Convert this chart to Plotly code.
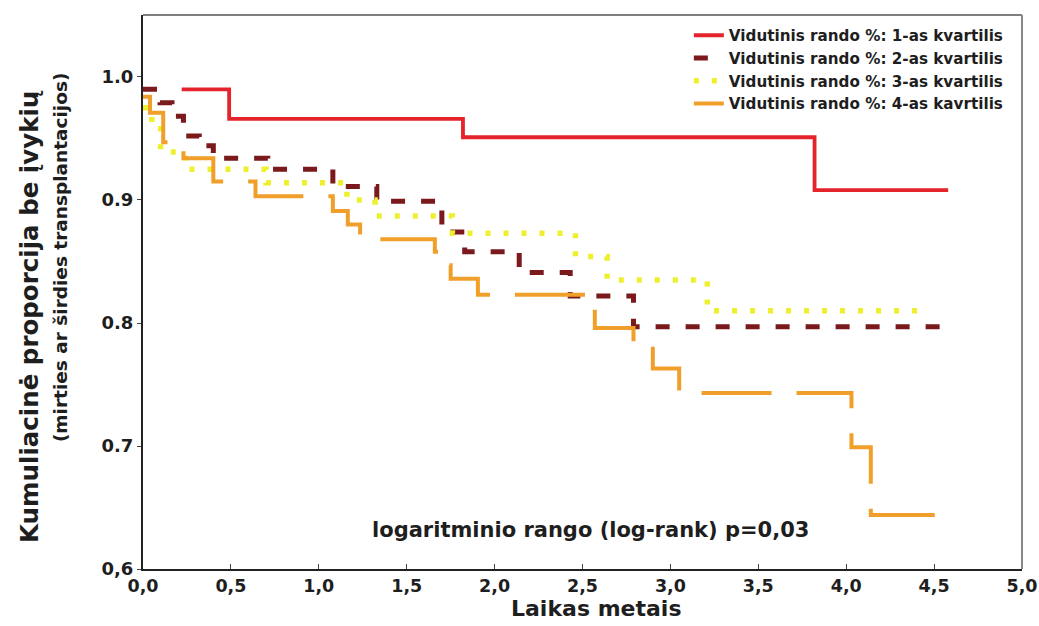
import plotly.graph_objects as go

# ---- data ----
q1_t = [0.22, 0.49, 1.82, 3.82, 4.58]
q1_s = [0.990, 0.966, 0.951, 0.908, 0.908]

q2_t = [0.00, 0.097, 0.165, 0.23, 0.32, 0.40, 0.71, 1.08, 1.33, 1.70, 1.83, 2.14, 2.43, 2.79, 4.56]
q2_s = [0.990, 0.979, 0.968, 0.952, 0.944, 0.934, 0.925, 0.911, 0.899, 0.874, 0.858, 0.841, 0.822, 0.797, 0.797]

q3_t = [0.00, 0.05, 0.10, 0.24, 0.70, 1.16, 1.32, 1.76, 2.46, 2.64, 3.21, 4.41]
q3_s = [0.975, 0.958, 0.939, 0.925, 0.914, 0.900, 0.887, 0.873, 0.854, 0.835, 0.810, 0.810]

q4_t = [0.00, 0.04, 0.115, 0.23, 0.40, 0.64, 1.08, 1.165, 1.235, 1.66, 1.71, 1.75, 1.905,
        2.57, 2.79, 2.90, 3.05, 4.03, 4.14, 4.58]
q4_s = [0.984, 0.971, 0.947, 0.934, 0.915, 0.903, 0.891, 0.880, 0.868, 0.858, 0.847, 0.836, 0.823,
        0.796, 0.783, 0.763, 0.743, 0.699, 0.644, 0.644]

series_names = [
    "Vidutinis rando %: 1-as kvartilis",
    "Vidutinis rando %: 2-as kvartilis",
    "Vidutinis rando %: 3-as kvartilis",
    "Vidutinis rando %: 4-as kavrtilis",
]

x_tick_vals = [0.0, 0.5, 1.0, 1.5, 2.0, 2.5, 3.0, 3.5, 4.0, 4.5, 5.0]
x_tick_text = ["0,0", "0,5", "1,0", "1,5", "2,0", "2,5", "3,0", "3,5", "4,0", "4,5", "5,0"]
y_tick_vals = [0.6, 0.7, 0.8, 0.9, 1.0]
y_tick_text = ["0,6", "0.7", "0.8", "0.9", "1.0"]

FONT = "DejaVu Sans"
TXT = "#1e1e1e"

fig = go.Figure()
styles = [
    dict(color="#e4232b", width=3.8, dash="solid"),
    dict(color="#7a1a1c", width=5, dash="14px,16px"),
    dict(color="#eef02e", width=5.5, dash="5px,13px"),
    dict(color="#f0a02a", width=4, dash="70px,25px"),
]
for t, s, name, st in zip([q1_t, q2_t, q3_t, q4_t], [q1_s, q2_s, q3_s, q4_s], series_names, styles):
    fig.add_trace(go.Scatter(x=t, y=s, mode="lines", name=name, line_shape="hv", line=st))

fig.update_layout(
    width=1039, height=626,
    margin=dict(l=143, r=17, t=15, b=57, autoexpand=False),
    paper_bgcolor="white", plot_bgcolor="white",
    font=dict(family=FONT, color=TXT),
    showlegend=True,
    legend=dict(x=0.621, y=0.993, xanchor="left", yanchor="top",
                bgcolor="rgba(0,0,0,0)", borderwidth=0,
                font=dict(family=FONT, size=15.2, color=TXT, weight="bold")),
    xaxis=dict(range=[0, 5], tickvals=x_tick_vals, ticktext=x_tick_text, automargin=False,
               showgrid=False, zeroline=False, showline=True, linecolor="#222", linewidth=2,
               ticks="inside", ticklen=5, tickcolor="#444",
               tickfont=dict(family=FONT, size=17.5, color=TXT, weight="bold")),
    yaxis=dict(range=[0.6, 1.0504], tickvals=y_tick_vals, ticktext=y_tick_text, automargin=False,
               showgrid=False, zeroline=False, showline=True, linecolor="#222", linewidth=2,
               ticks="outside", ticklen=4, tickcolor="#444",
               tickfont=dict(family=FONT, size=18, color=TXT, weight="bold")),
)

# frame top / right
fig.add_shape(type="line", xref="paper", yref="paper", x0=0, x1=1, y0=1, y1=1,
              line=dict(color="#555", width=1.5))
fig.add_shape(type="line", xref="paper", yref="paper", x0=1, x1=1, y0=0, y1=1,
              line=dict(color="#888", width=2))

fig.add_annotation(text="Laikas metais", xref="paper", yref="paper", x=0.515, y=-0.0704,
                   showarrow=False, xanchor="center", yanchor="middle",
                   font=dict(family=FONT, size=22, color=TXT, weight="bold"))
fig.add_annotation(text="Kumuliacinė proporcija be įvykių", xref="paper", yref="paper",
                   x=-0.1286, y=0.4567, textangle=-90, showarrow=False,
                   xanchor="center", yanchor="middle",
                   font=dict(family=FONT, size=24.5, color=TXT, weight="bold"))
fig.add_annotation(text="(mirties ar širdies transplantacijos)", xref="paper", yref="paper",
                   x=-0.0944, y=0.563, textangle=-90, showarrow=False,
                   xanchor="center", yanchor="middle",
                   font=dict(family=FONT, size=18.5, color=TXT, weight="bold"))
fig.add_annotation(text="logaritminio rango (log-rank) p=0,03", x=2.543, y=0.6317,
                   xref="x", yref="y", showarrow=False, xanchor="center", yanchor="middle",
                   font=dict(family=FONT, size=21, color=TXT, weight="bold"))

fig.write_html("out.html")
